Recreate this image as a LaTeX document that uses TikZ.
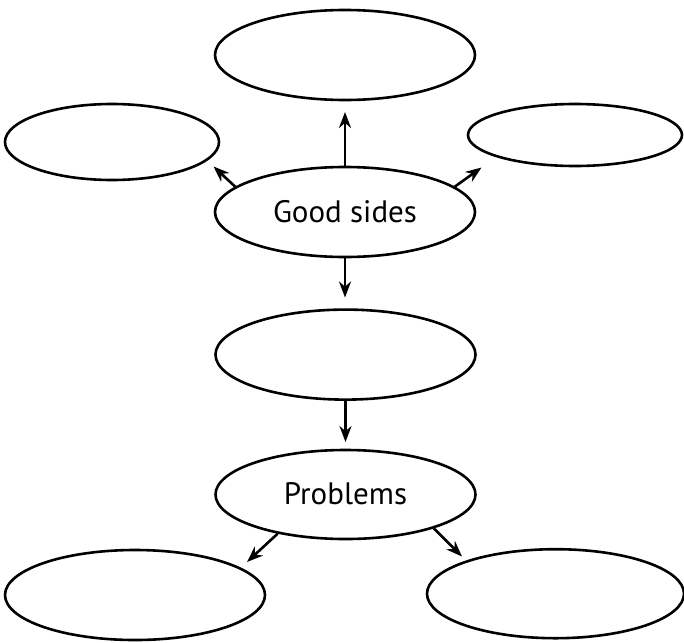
\documentclass[tikz,border=0pt]{standalone}
\usepackage{fontspec}
\setmainfont{PT Sans}
\usetikzlibrary{shapes.geometric,arrows.meta}
\begin{document}
\begin{tikzpicture}[x=1pt,y=-1pt,
  oval/.style={ellipse,draw,line width=2.6pt,inner sep=0pt,font=\fontsize{31}{33}\selectfont},
  conn/.style={line width=2.6pt,-{Stealth[length=16pt,width=12pt]}}]
\useasboundingbox (0,0) rectangle (684,642);
\node[oval,minimum width=260pt,minimum height=90pt] (top) at (345,55) {};
\node[oval,minimum width=214pt,minimum height=76pt] (left) at (112,142) {};
\node[oval,minimum width=214pt,minimum height=62pt] (right) at (575,135) {};
\node[oval,minimum width=260pt,minimum height=90pt] (gs) at (345,212) {\raisebox{2pt}{Good sides}};
\node[oval,minimum width=260pt,minimum height=90pt] (mid) at (345.5,354.6) {};
\node[oval,minimum width=260pt,minimum height=89pt] (prob) at (345.5,494.5) {\raisebox{2pt}{Problems}};
\node[oval,minimum width=260pt,minimum height=90pt] (bl) at (135,595) {};
\node[oval,minimum width=257pt,minimum height=89pt] (br) at (555.5,593.7) {};
\coordinate (tTop) at (345,112);
\coordinate (tLeft) at (213.5,166.5);
\coordinate (tRight) at (481.5,167.5);
\coordinate (tMid) at (345,297.5);
\coordinate (tProb) at (345.5,442);
\coordinate (tBL) at (247,562);
\coordinate (tBR) at (462,556.5);
\draw[conn] (gs.north) -- (tTop);
\draw[conn] (gs.167) -- (tLeft);
\draw[conn] (gs.13) -- (tRight);
\draw[conn] (gs.south) -- (tMid);
\draw[conn] (mid.south) -- (tProb);
\draw[conn] (prob.210) -- (tBL);
\draw[conn] (prob.-21) -- (tBR);
\end{tikzpicture}
\end{document}
